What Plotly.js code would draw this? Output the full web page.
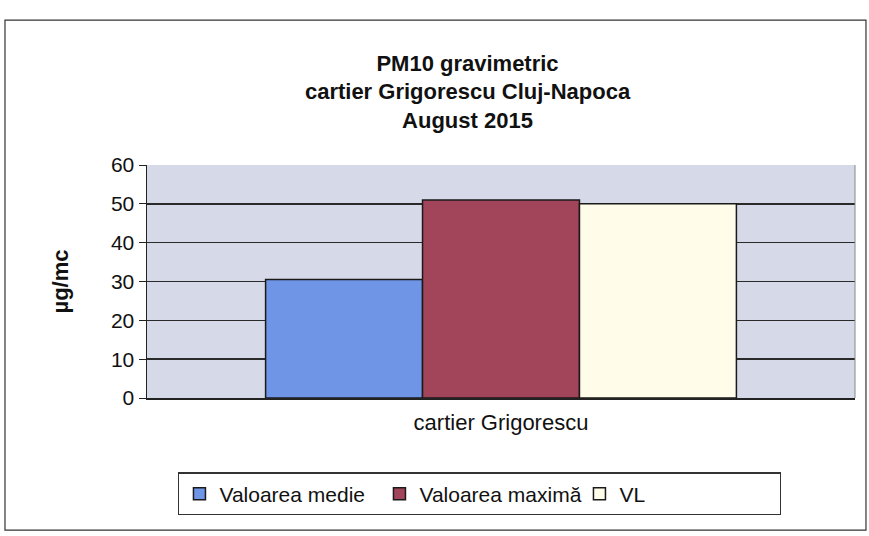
<!DOCTYPE html>
<html><head><meta charset="utf-8">
<script src="https://cdn.plot.ly/plotly-3.0.1.min.js"></script>
<style>html,body{margin:0;padding:0;background:#fff}#c{width:869px;height:536px}</style>
</head><body><div id="c"></div>
<script>
const categories = ["cartier Grigorescu"];
const seriesNames = ["Valoarea medie", "Valoarea maximă", "VL"];
const medie = [30.5];
const maxima = [51];
const vl = [50];
const yTicks = [0, 10, 20, 30, 40, 50, 60];

const colors = ["#6f95e6", "#a3455a", "#fffdea"];
const vals = [medie, maxima, vl];
const traces = vals.map((v, i) => ({
  type: "bar", x: categories, y: v, name: seriesNames[i],
  marker: {color: colors[i], line: {color: "#1a1a1a", width: 1.5}}
}));

const layout = {
  width: 869, height: 536,
  margin: {l: 147, r: 14, t: 165, b: 138},
  paper_bgcolor: "#ffffff", plot_bgcolor: "#d6d9e7",
  font: {family: "Liberation Sans, Arial, sans-serif", color: "#111", size: 20},
  title: {text: "<b>PM10 gravimetric<br>cartier Grigorescu Cluj-Napoca<br>August 2015</b>",
          x: 0.538, xanchor: "center", y: 0.868, yanchor: "top",
          font: {size: 22, family: "Liberation Sans, Arial, sans-serif", color: "#111"}},
  barmode: "group", bargap: 0.335, bargroupgap: 0,
  xaxis: {showgrid: false, showline: true, linecolor: "#222", linewidth: 1.5, mirror: false,
          ticks: "", tickfont: {size: 22}, ticklabelstandoff: 4},
  yaxis: {range: [0, 60], tickvals: yTicks, showgrid: true, gridcolor: "#2a2a2a", gridwidth: 1.5,
          zeroline: false, showline: true, linecolor: "#222", linewidth: 1.5,
          ticks: "outside", ticklen: 7, tickcolor: "#222", tickfont: {size: 21},
          title: {text: "<b>µg/mc</b>", font: {size: 22}, standoff: 36}},
  showlegend: true,
  legend: {orientation: "h", x: 0.47, xanchor: "center", y: -0.412, yanchor: "middle",
           bordercolor: "#333", borderwidth: 1.2, bgcolor: "#fff",
           font: {size: 21}, itemwidth: 30, entrywidth: 155, entrywidthmode: "pixels",
           tracegroupgap: 0},
  shapes: [
    {type: "rect", xref: "paper", yref: "paper", x0: -0.2006, x1: 1.0155, y0: -0.567, y1: 1.622,
     line: {color: "#333", width: 1.2}, fillcolor: "rgba(0,0,0,0)", layer: "below"},
    {type: "line", xref: "paper", yref: "paper", x0: 1, x1: 1, y0: 0, y1: 1, line: {color: "#888", width: 1}}
  ]
};
Plotly.newPlot("c", traces, layout, {displayModeBar: false, staticPlot: true});
</script></body></html>
